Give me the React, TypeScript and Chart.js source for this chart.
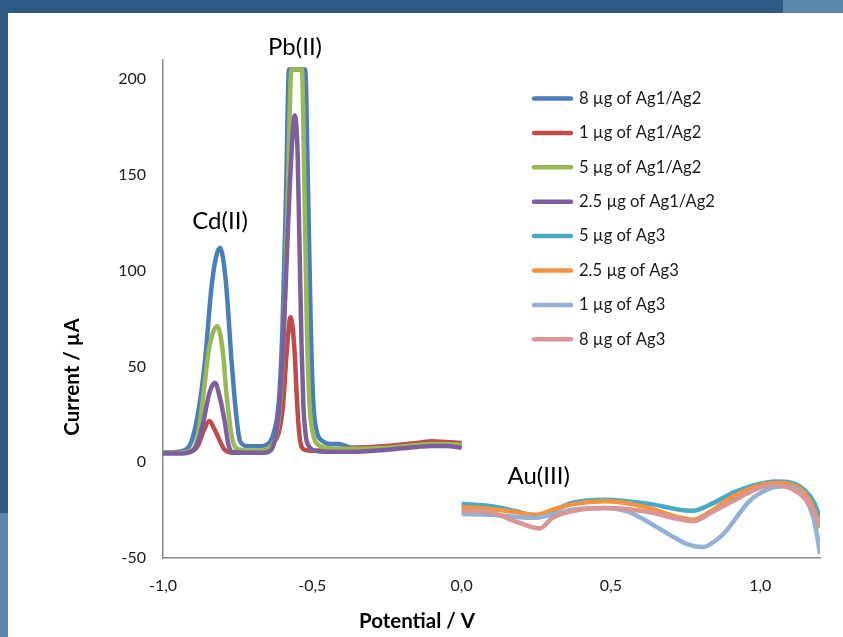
import React, { useEffect, useRef } from "react";
import { Chart, registerables } from "chart.js";

Chart.register(...registerables);

const FONT = "Lato, 'Open Sans', sans-serif";

// ---- series (legend order) ----
const seriesLabels = [
  "8 µg of Ag1/Ag2",
  "1 µg of Ag1/Ag2",
  "5 µg of Ag1/Ag2",
  "2.5 µg of Ag1/Ag2",
  "5 µg of Ag3",
  "2.5 µg of Ag3",
  "1 µg of Ag3",
  "8 µg of Ag3",
];
const seriesColors = [
  "#4a7ebb",
  "#be4b48",
  "#98b954",
  "#7d5fa0",
  "#46aac5",
  "#f69240",
  "#93b1d6",
  "#d99694",
];

// 8 µg of Ag1/Ag2
const ag12_8Potential = [-1.0, -0.95, -0.92, -0.904, -0.88, -0.86, -0.835, -0.809, -0.79, -0.77, -0.755, -0.742, -0.72, -0.676, -0.645, -0.63, -0.612, -0.6, -0.588, -0.578, -0.524, -0.514, -0.505, -0.497, -0.485, -0.465, -0.44, -0.41, -0.38, -0.35, -0.25, -0.15, -0.1, -0.05, 0.0];
const ag12_8Current = [5, 5.5, 7, 11, 28, 52, 95, 112, 95, 52, 25, 11, 8.5, 8.3, 10, 15, 32, 70, 140, 205, 205, 140, 70, 32, 16, 11, 9.5, 9.5, 8, 7.5, 7.5, 9, 9.5, 9, 8.5];

// 1 µg of Ag1/Ag2
const ag12_1Potential = [-1.0, -0.95, -0.9, -0.882, -0.865, -0.845, -0.83, -0.815, -0.8, -0.793, -0.77, -0.7, -0.65, -0.63, -0.61, -0.598, -0.586, -0.573, -0.559, -0.553, -0.545, -0.538, -0.525, -0.5, -0.45, -0.35, -0.25, -0.15, -0.1, -0.05, 0.0];
const ag12_1Current = [5, 5, 6, 9, 16, 21.5, 18, 13, 8, 6.4, 5, 5, 7, 10, 17, 30, 57, 75.7, 57, 37, 17, 9, 6.5, 6, 6.5, 7.5, 8.5, 10, 11, 10.5, 10];

// 5 µg of Ag1/Ag2
const ag12_5Potential = [-1.0, -0.95, -0.91, -0.885, -0.865, -0.845, -0.818, -0.8, -0.787, -0.77, -0.759, -0.74, -0.7, -0.66, -0.635, -0.62, -0.607, -0.595, -0.582, -0.57, -0.535, -0.526, -0.518, -0.51, -0.498, -0.48, -0.45, -0.4, -0.35, -0.25, -0.15, -0.1, -0.05, 0.0];
const ag12_5Current = [5, 5, 6, 12, 35, 60, 71, 58, 35, 14, 8, 6.5, 6, 6.5, 9, 15, 32, 70, 140, 205, 205, 140, 70, 32, 15, 9, 7.5, 7, 7, 7.5, 9, 9.5, 9.5, 9];

// 2.5 µg of Ag1/Ag2
const ag12_25Potential = [-1.0, -0.95, -0.9, -0.88, -0.865, -0.845, -0.826, -0.81, -0.793, -0.782, -0.77, -0.72, -0.66, -0.64, -0.625, -0.61, -0.598, -0.586, -0.572, -0.559, -0.549, -0.542, -0.536, -0.53, -0.522, -0.51, -0.49, -0.45, -0.35, -0.25, -0.15, -0.1, -0.05, 0.0];
const ag12_25Current = [4.5, 4.5, 6, 12, 21, 36, 41.5, 34, 21, 10, 5.5, 5, 5, 6, 12, 30, 60, 105, 155, 181, 160, 106, 60, 30, 14, 8, 6, 5.5, 5.5, 6.5, 8, 8.5, 8.5, 7.5];

// 5 µg of Ag3
const ag3_5Potential = [0.0, 0.1, 0.18, 0.25, 0.31, 0.37, 0.48, 0.56, 0.64, 0.72, 0.774, 0.84, 0.907, 0.98, 1.05, 1.1, 1.153, 1.18, 1.2];
const ag3_5Current = [-21.8, -23, -25.5, -28, -25, -21.3, -19.6, -20.5, -22, -24.5, -25.3, -21.5, -16, -12, -10, -10.5, -15.2, -21, -29];

// 2.5 µg of Ag3
const ag3_25Potential = [0.0, 0.1, 0.18, 0.25, 0.31, 0.37, 0.48, 0.56, 0.64, 0.72, 0.774, 0.84, 0.907, 0.98, 1.05, 1.1, 1.153, 1.18, 1.2];
const ag3_25Current = [-23.5, -24.5, -26, -27.4, -24.5, -22, -20.4, -21.5, -24.5, -28.5, -30, -25, -18, -13, -10.9, -11.5, -17, -25, -34.3];

// 1 µg of Ag3
const ag3_1Potential = [0.0, 0.1, 0.18, 0.25, 0.31, 0.37, 0.48, 0.56, 0.64, 0.72, 0.76, 0.807, 0.85, 0.885, 0.963, 1.02, 1.075, 1.129, 1.175, 1.19, 1.2];
const ag3_1Current = [-27, -27.4, -28.5, -29, -27, -24.8, -23.9, -26, -32.6, -40, -43, -44.3, -41, -36, -20.4, -14.5, -12.6, -15, -27.4, -38, -48];

// 8 µg of Ag3
const ag3_8Potential = [0.0, 0.1, 0.194, 0.261, 0.305, 0.395, 0.48, 0.56, 0.64, 0.72, 0.774, 0.84, 0.907, 0.98, 1.04, 1.1, 1.15, 1.18, 1.2];
const ag3_8Current = [-25.3, -26.4, -31.7, -34.6, -29, -24.8, -23.9, -24.5, -26.4, -29.5, -30.8, -26, -20.4, -14.5, -11.7, -13.5, -19, -26, -33.4];

const seriesPotentials = [ag12_8Potential, ag12_1Potential, ag12_5Potential, ag12_25Potential, ag3_5Potential, ag3_25Potential, ag3_1Potential, ag3_8Potential];
const seriesCurrents = [ag12_8Current, ag12_1Current, ag12_5Current, ag12_25Current, ag3_5Current, ag3_25Current, ag3_1Current, ag3_8Current];

// ---- axes ----
const xAxisTitle = "Potential / V";
const yAxisTitle = "Current / µA";
const xMin = -1.0;
const xMax = 1.2;
const xStep = 0.5;
const yMin = -50;
const yMax = 210;
const yStep = 50;

// ---- peak annotations (text, potential, current) ----
const peakTexts = ["Cd(II)", "Pb(II)", "Au(III)"];
const peakPotentials = [-0.809, -0.558, 0.258];
const peakCurrents = [125.7, 216.6, -7.3];

const AXIS_COLOR = "#8a8a8a";
const TEXT_COLOR = "#1a1a1a";

const overlayPlugin = {
  id: "overlay",
  afterDraw(chart: any) {
    const ctx = chart.ctx as CanvasRenderingContext2D;
    const xs = chart.scales.x;
    const ys = chart.scales.y;
    ctx.save();
    // peak labels
    ctx.fillStyle = "#000";
    ctx.font = `24px ${FONT}`;
    ctx.textAlign = "center";
    ctx.textBaseline = "middle";
    peakTexts.forEach((t, i) => {
      ctx.fillText(t, xs.getPixelForValue(peakPotentials[i]), ys.getPixelForValue(peakCurrents[i]));
    });
    // legend
    ctx.font = `16.6px ${FONT}`;
    ctx.textAlign = "left";
    ctx.lineCap = "round";
    seriesLabels.forEach((lab, i) => {
      const y = 98.5 + i * 34.4;
      ctx.strokeStyle = seriesColors[i];
      ctx.lineWidth = 4.5;
      ctx.beginPath();
      ctx.moveTo(534, y);
      ctx.lineTo(571, y);
      ctx.stroke();
      ctx.fillStyle = TEXT_COLOR;
      ctx.fillText(lab, 579, y);
    });
    // axis titles
    ctx.fillStyle = "#000";
    ctx.font = `bold 20.5px ${FONT}`;
    ctx.textAlign = "center";
    ctx.fillText(xAxisTitle, 417, 621);
    ctx.translate(72, 377);
    ctx.rotate(-Math.PI / 2);
    ctx.fillText(yAxisTitle, 0, 0);
    ctx.restore();
  },
};

export default function App() {
  const ref = useRef<HTMLCanvasElement | null>(null);
  useEffect(() => {
    if (!ref.current) return;
    const datasets = seriesLabels.map((label, i) => ({
      label,
      data: seriesPotentials[i].map((x, j) => ({ x, y: seriesCurrents[i][j] })),
      borderColor: seriesColors[i],
      backgroundColor: seriesColors[i],
      borderWidth: 4.5,
      pointRadius: 0,
      fill: false,
      cubicInterpolationMode: "monotone" as const,
      order: -i,
    }));
    const chart = new Chart(ref.current, {
      type: "line",
      data: { datasets },
      options: {
        responsive: false,
        animation: false,
        devicePixelRatio: 1,
        layout: { padding: { top: 60, right: 23, left: 0, bottom: 0 } },
        plugins: { legend: { display: false }, tooltip: { enabled: false } },
        scales: {
          x: {
            type: "linear",
            min: xMin,
            max: xMax,
            grid: { display: false, drawTicks: false },
            border: { display: true, color: AXIS_COLOR, width: 1.5 },
            ticks: {
              stepSize: xStep,
              includeBounds: false,
              autoSkip: false,
              maxRotation: 0,
              padding: 18,
              color: TEXT_COLOR,
              font: { family: FONT, size: 16 },
              callback: (v: any) => Number(v).toFixed(1).replace(".", ","),
            },
            afterFit: (s: any) => {
              s.height = 79;
            },
          },
          y: {
            type: "linear",
            min: yMin,
            max: yMax,
            grid: { display: false, drawTicks: false },
            border: { display: true, color: AXIS_COLOR, width: 1.5 },
            ticks: {
              stepSize: yStep,
              includeBounds: false,
              padding: 17,
              color: TEXT_COLOR,
              font: { family: FONT, size: 16 },
              callback: (v: any) => String(v),
            },
            afterFit: (s: any) => {
              s.width = 163;
            },
          },
        },
      },
      plugins: [overlayPlugin],
    });
    return () => chart.destroy();
  }, []);

  return (
    <div style={{ position: "absolute", left: 0, top: 0, width: 843, height: 637, background: "#fff", overflow: "hidden" }}>
      <div style={{ position: "absolute", left: 0, top: 0, width: 783, height: 13, background: "#2e5b84" }} />
      <div style={{ position: "absolute", left: 783, top: 0, width: 60, height: 13, background: "#5b87ae" }} />
      <div style={{ position: "absolute", left: 0, top: 0, width: 8, height: 513, background: "#2e5b84" }} />
      <div style={{ position: "absolute", left: 0, top: 513, width: 8, height: 124, background: "#5b87ae" }} />
      <canvas ref={ref} width={843} height={637} style={{ position: "absolute", left: 0, top: 0 }} />
    </div>
  );
}
